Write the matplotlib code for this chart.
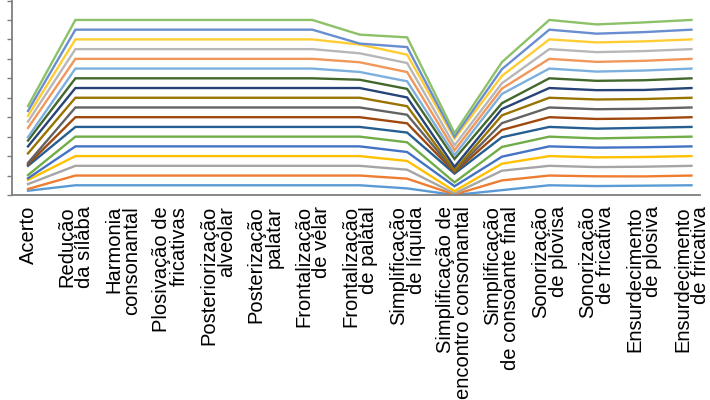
import numpy as np
import matplotlib
matplotlib.use("Agg")
import matplotlib.pyplot as plt

categories = [
    "Acerto", "Redução\nda sílaba", "Harmonia\nconsonantal", "Plosivação de\nfricativas",
    "Posteriorização\nalveolar", "Posterização\npalatar", "Frontalização\nde velar",
    "Frontalização\nde palatal", "Simplificação\nde líquida", "Simplificação de\nencontro consonantal",
    "Simplificação\nde consoante final", "Sonorização\nde plovisa", "Sonorização\nde fricativa",
    "Ensurdecimento\nde plosiva", "Ensurdecimento\nde fricativa",
]

s1 = [0.44, 1, 1, 1, 1, 1, 1, 1, 0.68, 0.00, 0.50, 1, 0.92, 0.96, 1]
s2 = [0.18, 1, 1, 1, 1, 1, 1, 1, 1.00, 0.05, 1.00, 1, 1.00, 0.95, 1]
s3 = [0.50, 1, 1, 1, 1, 1, 1, 1, 0.92, 0.10, 1.00, 1, 0.95, 1.00, 1]
s4 = [0.43, 1, 1, 1, 1, 1, 1, 1, 0.90, 0.25, 0.72, 1, 1.00, 1.00, 1]
s5 = [0.17, 1, 1, 1, 1, 1, 1, 1, 0.92, 0.50, 0.72, 1, 1.00, 1.00, 1]
s6 = [0.33, 1, 1, 1, 1, 1, 1, 1, 1.00, 0.40, 1.00, 1, 0.95, 1.00, 1]
s7 = [0.95, 1, 1, 1, 1, 1, 1, 1, 1.00, 0.90, 1.00, 1, 1.00, 1.00, 1]
s8 = [0.15, 1, 1, 1, 1, 1, 1, 1, 0.95, 0.15, 0.75, 1, 1.00, 0.96, 1]
s9 = [0.15, 1, 1, 1, 1, 1, 1, 1, 0.88, 0.10, 0.70, 1, 1.00, 1.00, 1]
s10 = [0.98, 1, 1, 1, 1, 1, 1, 1, 0.88, 0.10, 0.80, 1, 1.00, 1.00, 1]
s11 = [0.72, 1, 1, 1, 1, 1, 1, 1, 0.90, 0.35, 0.65, 1, 0.96, 0.93, 1]
s12 = [0.60, 1, 1, 1, 1, 1, 1, 0.85, 0.88, 0.80, 0.60, 1, 0.96, 1.00, 1]
s13 = [0.35, 1, 1, 1, 1, 1, 1, 0.80, 0.78, 0.40, 0.95, 1, 0.95, 1.00, 1]
s14 = [0.95, 1, 1, 1, 1, 1, 1, 1.00, 0.95, 0.50, 0.55, 1, 1.00, 1.00, 1]
s15 = [0.65, 1, 1, 1, 1, 1, 1, 0.92, 0.93, 0.50, 0.55, 1, 1.00, 1.00, 1]
s16 = [0.60, 1, 1, 1, 1, 1, 1, 0.90, 0.86, 0.70, 0.75, 1, 1.00, 1.00, 1]
s17 = [0.50, 1, 1, 1, 1, 1, 1, 0.10, 0.78, 0.20, 0.70, 1, 0.90, 0.95, 1]
s18 = [0.50, 1, 1, 1, 1, 1, 1, 0.92, 1.00, 0.35, 0.72, 1, 0.95, 1.00, 1]

series = [s1, s2, s3, s4, s5, s6, s7, s8, s9, s10, s11, s12, s13, s14, s15, s16, s17, s18]
colors = ["#5B9BD5", "#ED7D31", "#A5A5A5", "#FFC000", "#4472C4", "#70AD47",
          "#255E91", "#9E480E", "#636363", "#997300", "#264478", "#43682B",
          "#7CAFDD", "#F1975A", "#B7B7B7", "#FFCD33", "#698ED0", "#8CC168"]

plt.rcParams['font.family'] = ['Liberation Sans', 'DejaVu Sans']

fig = plt.figure(figsize=(7.1, 4.0), dpi=100)
ax = fig.add_axes([12/710, 1 - 195/400, 688/710, 194.5/400])

x = np.arange(len(categories))
stacked = np.cumsum(np.array(series, dtype=float), axis=0)
for vals, c in zip(stacked, colors):
    ax.plot(x, vals, color=c, lw=1.7, solid_joinstyle='miter')

ax.set_xlim(-0.338, 14.18)
ax.set_ylim(0, 20)
ax.set_yticks(np.arange(0, 21, 2))
ax.set_yticklabels([])
ax.tick_params(axis='y', direction='out', length=3.5, width=1.0, color='#7f7f7f')
ax.set_xticks(x)
ax.set_xticklabels(categories, rotation=90, ha='center', va='top',
                   multialignment='right', fontsize=14.5, linespacing=0.92,
                   color='#000000')
ax.tick_params(axis='x', length=0, pad=8)

for side in ['top', 'right']:
    ax.spines[side].set_visible(False)
for side in ['left', 'bottom']:
    ax.spines[side].set_color('#7f7f7f')
    ax.spines[side].set_linewidth(1.3)

fig.savefig("out.png", dpi=100)
